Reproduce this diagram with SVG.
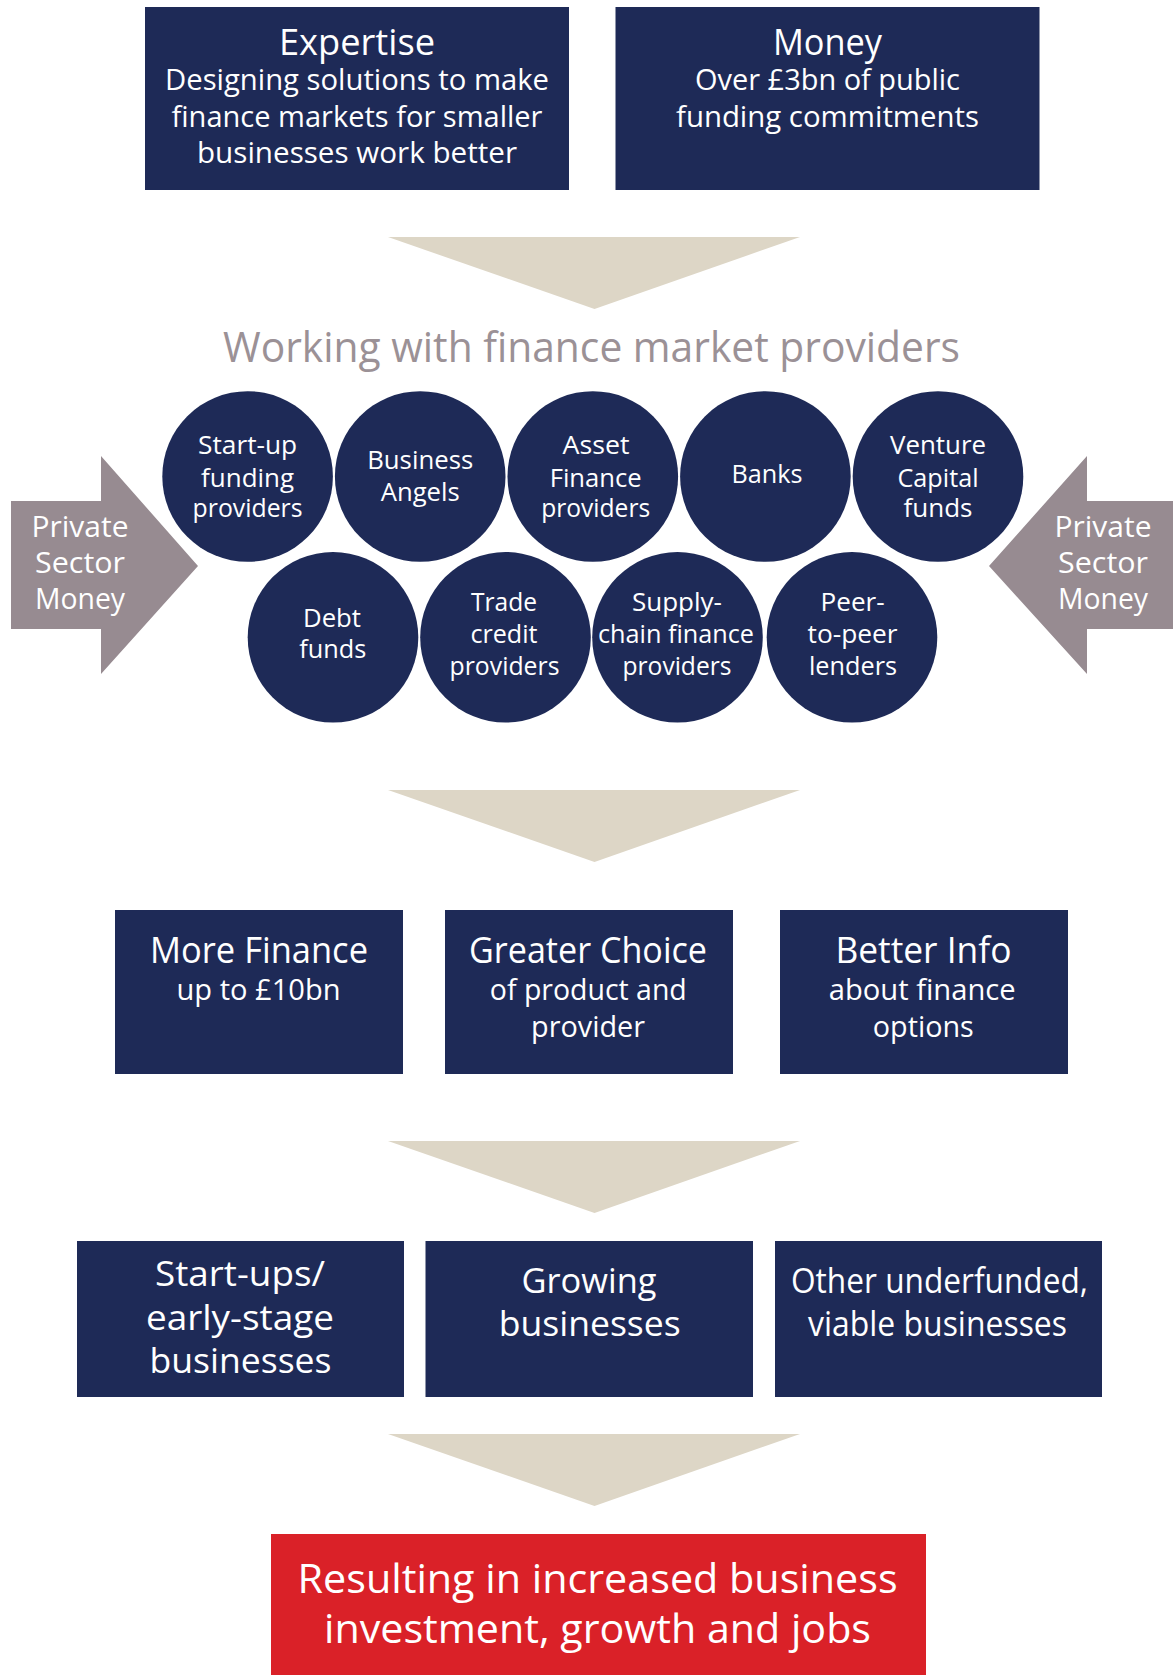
<svg xmlns="http://www.w3.org/2000/svg" width="1173" height="1675" viewBox="0 0 1173 1675">
<style>
.box{fill:#1e2a57}
.circ{fill:#1e2a57}
.red{fill:#da2128}
.tri{fill:#ddd6c6}
.side{fill:#978b91}
text{font-family:"Open Sans","Noto Sans","Liberation Sans",sans-serif;fill:#fff;text-anchor:middle}
.t37{font-size:37px}
.t29{font-size:29px}
.t26{font-size:25.5px}
.t30{font-size:30px}
.t35{font-size:35px}
.t40{font-size:40px}
.head{font-size:42px;fill:#9b9196}
</style>
<rect width="1173" height="1675" fill="#fff"/>
<g id="connectors">
<polygon class="tri" points="388,237 800,237 594.5,309"/>
<polygon class="tri" points="388,790 800,790 594.5,862"/>
<polygon class="tri" points="388,1141 800,1141 594.5,1213"/>
<polygon class="tri" points="388,1434 800,1434 594.5,1506"/>
</g>
<g id="expertise">
<rect class="box" x="145" y="7" width="424" height="183"/>
<text class="t37" x="357" y="55" textLength="156" lengthAdjust="spacingAndGlyphs">Expertise</text>
<text class="t29" x="357" y="90" textLength="384" lengthAdjust="spacingAndGlyphs">Designing solutions to make</text>
<text class="t29" x="357" y="127" textLength="371" lengthAdjust="spacingAndGlyphs">finance markets for smaller</text>
<text class="t29" x="357" y="163" textLength="320" lengthAdjust="spacingAndGlyphs">businesses work better</text>
</g>
<g id="money">
<rect class="box" x="615.5" y="7" width="424" height="183"/>
<text class="t37" x="827.5" y="55" textLength="109" lengthAdjust="spacingAndGlyphs">Money</text>
<text class="t29" x="827.5" y="90" textLength="265" lengthAdjust="spacingAndGlyphs">Over £3bn of public</text>
<text class="t29" x="827.5" y="127" textLength="303" lengthAdjust="spacingAndGlyphs">funding commitments</text>
</g>
<g id="heading">
<text class="head" x="591.5" y="362" textLength="737" lengthAdjust="spacingAndGlyphs">Working with finance market providers</text>
</g>
<g id="private-left">
<polygon class="side" points="11,501 101,501 101,456 198,566 101,674 101,629 11,629"/>
<text class="t30" x="80" y="537" textLength="97" lengthAdjust="spacingAndGlyphs">Private</text>
<text class="t30" x="80" y="573" textLength="90" lengthAdjust="spacingAndGlyphs">Sector</text>
<text class="t30" x="80" y="609" textLength="90" lengthAdjust="spacingAndGlyphs">Money</text>
</g>
<g id="private-right">
<polygon class="side" points="1173,501 1087,501 1087,456 989,566 1087,674 1087,629 1173,629"/>
<text class="t30" x="1103" y="537" textLength="97" lengthAdjust="spacingAndGlyphs">Private</text>
<text class="t30" x="1103" y="573" textLength="90" lengthAdjust="spacingAndGlyphs">Sector</text>
<text class="t30" x="1103" y="609" textLength="90" lengthAdjust="spacingAndGlyphs">Money</text>
</g>
<g id="startup-funding">
<circle class="circ" cx="247.6" cy="476.5" r="85.3"/>
<text class="t26" x="247.6" y="454" textLength="99" lengthAdjust="spacingAndGlyphs">Start-up</text>
<text class="t26" x="247.6" y="486.5" textLength="93" lengthAdjust="spacingAndGlyphs">funding</text>
<text class="t26" x="247.6" y="517" textLength="110" lengthAdjust="spacingAndGlyphs">providers</text>
</g>
<g id="business-angels">
<circle class="circ" cx="420.2" cy="476.5" r="85.3"/>
<text class="t26" x="420.2" y="469.3" textLength="106" lengthAdjust="spacingAndGlyphs">Business</text>
<text class="t26" x="420.2" y="500.7" textLength="79" lengthAdjust="spacingAndGlyphs">Angels</text>
</g>
<g id="asset-finance">
<circle class="circ" cx="592.8" cy="476.5" r="85.3"/>
<text class="t26" x="596" y="454" textLength="67" lengthAdjust="spacingAndGlyphs">Asset</text>
<text class="t26" x="595.7" y="486.5" textLength="92" lengthAdjust="spacingAndGlyphs">Finance</text>
<text class="t26" x="595.7" y="517" textLength="109" lengthAdjust="spacingAndGlyphs">providers</text>
</g>
<g id="banks">
<circle class="circ" cx="765.4" cy="476.5" r="85.3"/>
<text class="t26" x="767" y="482.7" textLength="71" lengthAdjust="spacingAndGlyphs">Banks</text>
</g>
<g id="venture-capital">
<circle class="circ" cx="938" cy="476.5" r="85.3"/>
<text class="t26" x="938" y="454" textLength="96" lengthAdjust="spacingAndGlyphs">Venture</text>
<text class="t26" x="938" y="486.5" textLength="81" lengthAdjust="spacingAndGlyphs">Capital</text>
<text class="t26" x="938" y="517" textLength="69" lengthAdjust="spacingAndGlyphs">funds</text>
</g>
<g id="debt-funds">
<circle class="circ" cx="333" cy="637.3" r="85.3"/>
<text class="t26" x="332" y="627.3" textLength="58" lengthAdjust="spacingAndGlyphs">Debt</text>
<text class="t26" x="332.7" y="658.3" textLength="67" lengthAdjust="spacingAndGlyphs">funds</text>
</g>
<g id="trade-credit">
<circle class="circ" cx="505.5" cy="637.3" r="85.3"/>
<text class="t26" x="504" y="611" textLength="66" lengthAdjust="spacingAndGlyphs">Trade</text>
<text class="t26" x="504" y="643" textLength="67" lengthAdjust="spacingAndGlyphs">credit</text>
<text class="t26" x="504.5" y="675" textLength="110" lengthAdjust="spacingAndGlyphs">providers</text>
</g>
<g id="supply-chain">
<circle class="circ" cx="677.5" cy="637.3" r="85.3"/>
<text class="t26" x="677" y="611" textLength="90" lengthAdjust="spacingAndGlyphs">Supply-</text>
<text class="t26" x="676" y="643" textLength="156" lengthAdjust="spacingAndGlyphs">chain finance</text>
<text class="t26" x="677" y="675" textLength="109" lengthAdjust="spacingAndGlyphs">providers</text>
</g>
<g id="peer-to-peer">
<circle class="circ" cx="852" cy="637.3" r="85.3"/>
<text class="t26" x="852.6" y="611" textLength="64" lengthAdjust="spacingAndGlyphs">Peer-</text>
<text class="t26" x="852.6" y="643" textLength="90" lengthAdjust="spacingAndGlyphs">to-peer</text>
<text class="t26" x="853" y="675" textLength="88" lengthAdjust="spacingAndGlyphs">lenders</text>
</g>
<g id="more-finance">
<rect class="box" x="115" y="910" width="288" height="164"/>
<text class="t37" x="259" y="963" textLength="218" lengthAdjust="spacingAndGlyphs">More Finance</text>
<text class="t29" x="258.5" y="1000" textLength="164" lengthAdjust="spacingAndGlyphs">up to £10bn</text>
</g>
<g id="greater-choice">
<rect class="box" x="445" y="910" width="288" height="164"/>
<text class="t37" x="588" y="963" textLength="238" lengthAdjust="spacingAndGlyphs">Greater Choice</text>
<text class="t29" x="588.3" y="1000" textLength="197" lengthAdjust="spacingAndGlyphs">of product and</text>
<text class="t29" x="588" y="1037" textLength="114" lengthAdjust="spacingAndGlyphs">provider</text>
</g>
<g id="better-info">
<rect class="box" x="780" y="910" width="288" height="164"/>
<text class="t37" x="923.4" y="963" textLength="176" lengthAdjust="spacingAndGlyphs">Better Info</text>
<text class="t29" x="922.2" y="1000" textLength="187" lengthAdjust="spacingAndGlyphs">about finance</text>
<text class="t29" x="923.3" y="1037" textLength="101" lengthAdjust="spacingAndGlyphs">options</text>
</g>
<g id="startups">
<rect class="box" x="77" y="1241" width="327" height="156"/>
<text class="t35" x="240" y="1286" textLength="170" lengthAdjust="spacingAndGlyphs">Start-ups/</text>
<text class="t35" x="240" y="1330" textLength="188" lengthAdjust="spacingAndGlyphs">early-stage</text>
<text class="t35" x="240.5" y="1373" textLength="182" lengthAdjust="spacingAndGlyphs">businesses</text>
</g>
<g id="growing">
<rect class="box" x="425.5" y="1241" width="327.5" height="156"/>
<text class="t35" x="589" y="1293" textLength="135" lengthAdjust="spacingAndGlyphs">Growing</text>
<text class="t35" x="589.7" y="1336" textLength="182" lengthAdjust="spacingAndGlyphs">businesses</text>
</g>
<g id="other-underfunded">
<rect class="box" x="775" y="1241" width="327" height="156"/>
<text class="t35" x="939.5" y="1293" textLength="297" lengthAdjust="spacingAndGlyphs">Other underfunded,</text>
<text class="t35" x="937.5" y="1336" textLength="259" lengthAdjust="spacingAndGlyphs">viable businesses</text>
</g>
<g id="result">
<rect class="red" x="271" y="1534" width="655" height="141"/>
<text class="t40" x="597.6" y="1593" textLength="600" lengthAdjust="spacingAndGlyphs">Resulting in increased business</text>
<text class="t40" x="597.5" y="1643" textLength="547" lengthAdjust="spacingAndGlyphs">investment, growth and jobs</text>
</g>
</svg>
